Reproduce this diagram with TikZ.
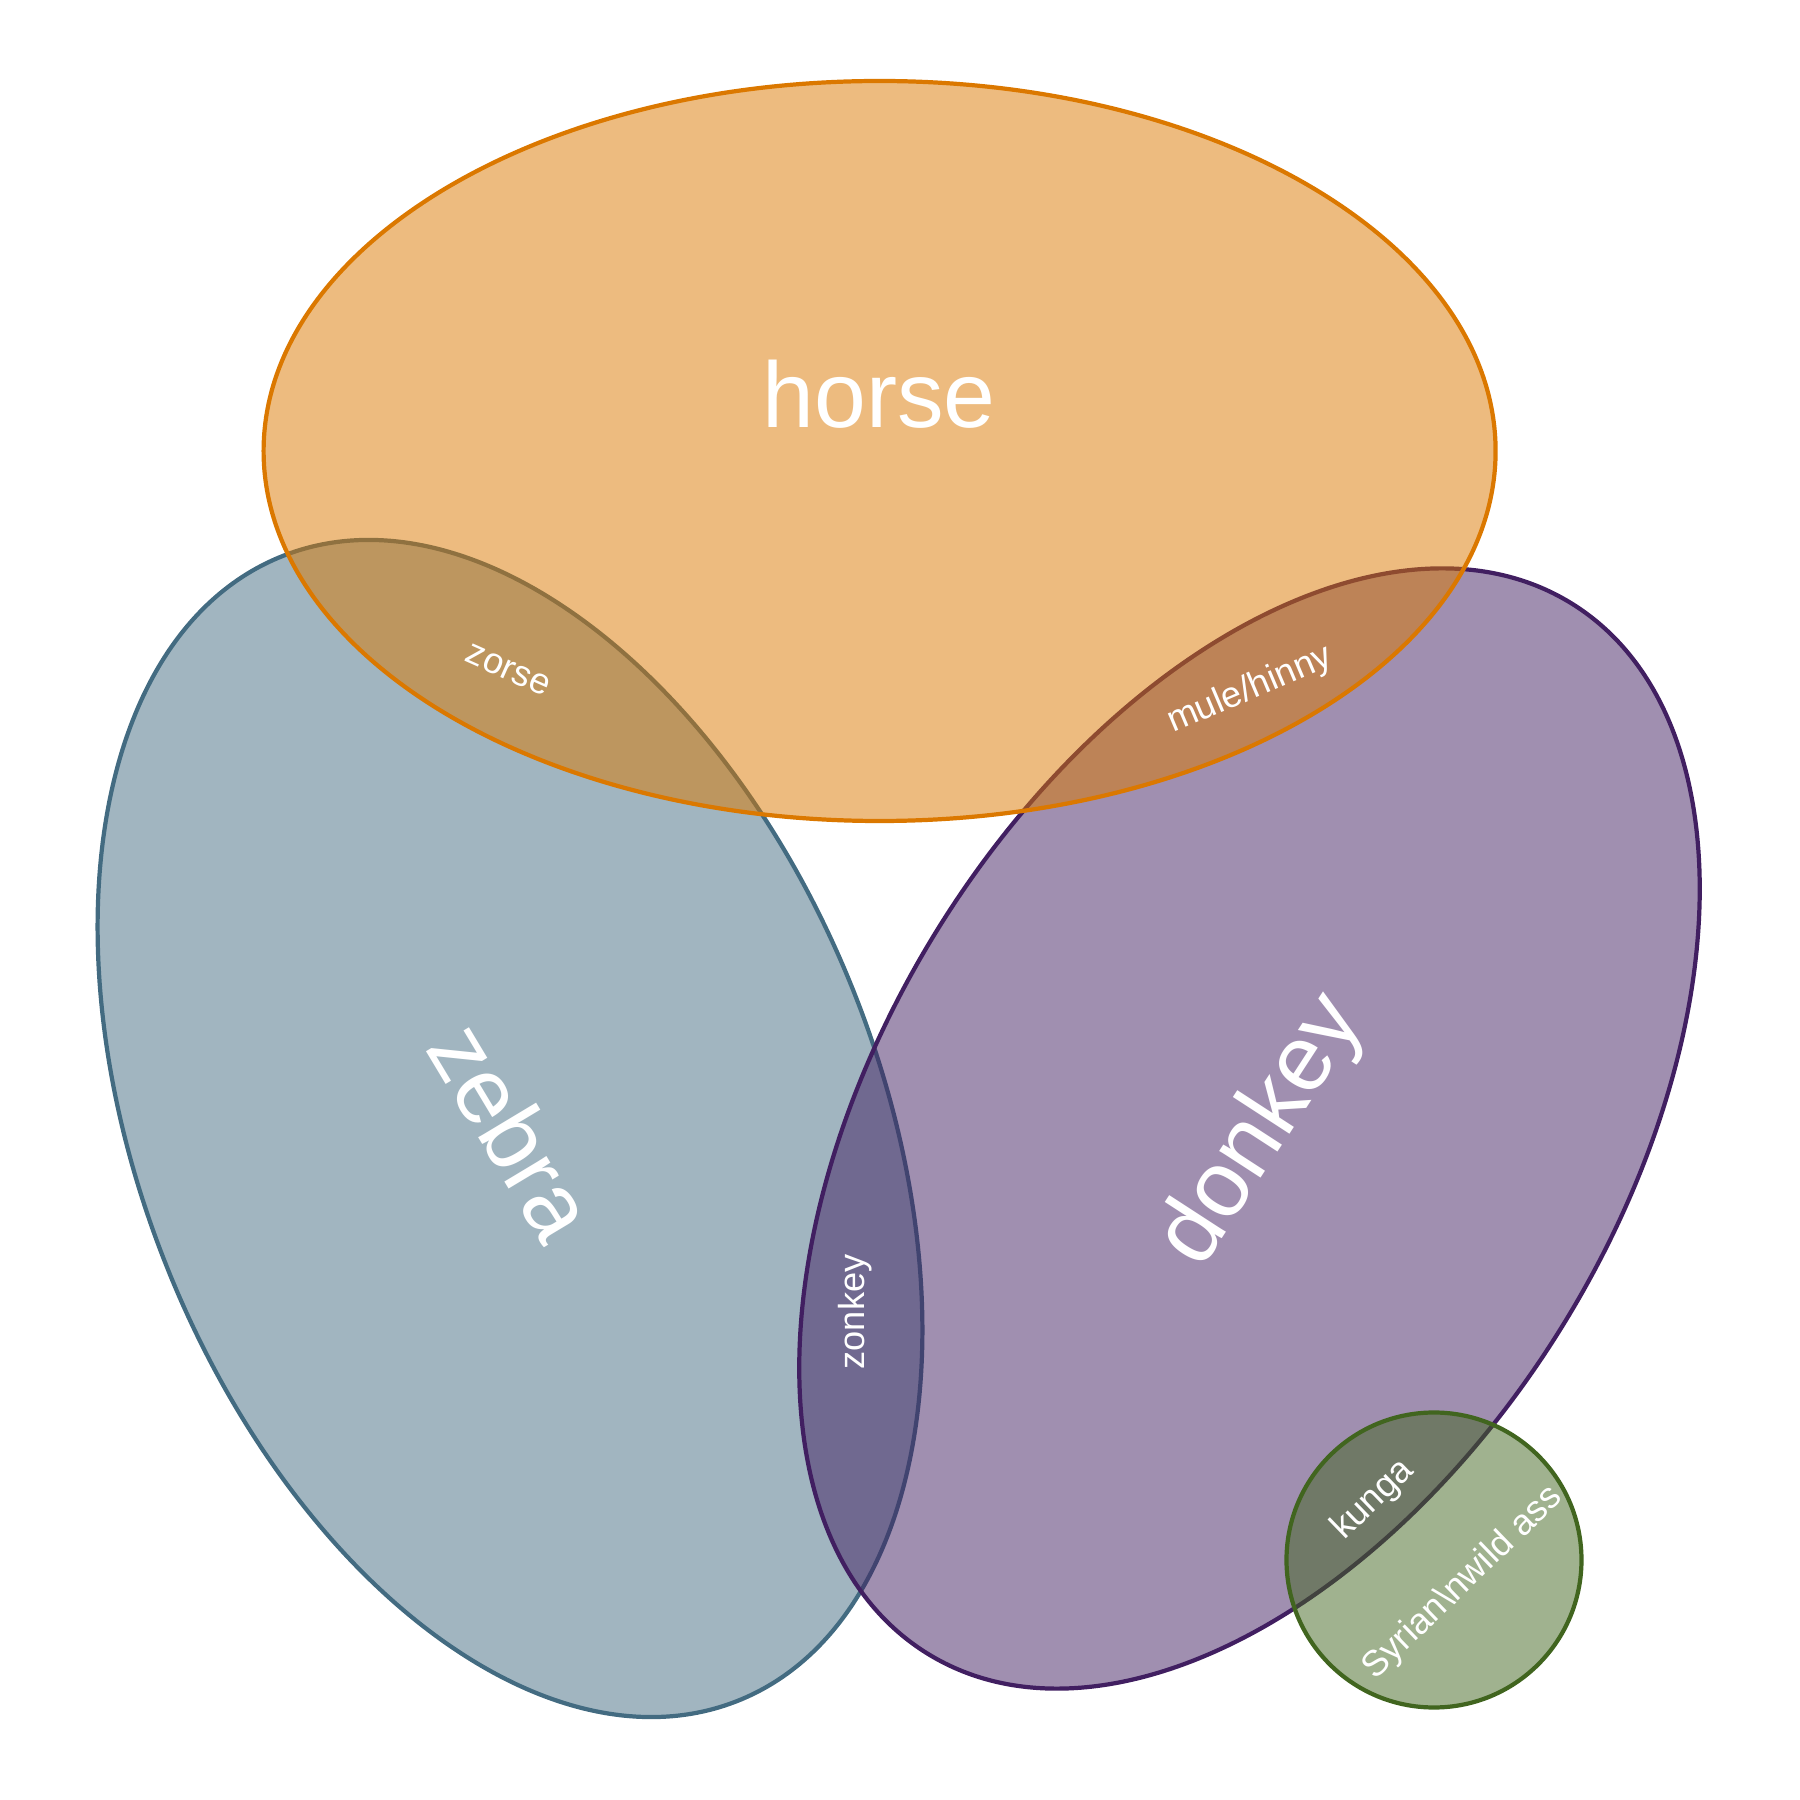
\documentclass[tikz,border=0pt]{standalone}
\usepackage{fontspec}
\setmainfont{Liberation Sans}
\definecolor{horsec}{HTML}{DB7800}
\definecolor{zebrac}{HTML}{436B81}
\definecolor{donkeyc}{HTML}{411F61}
\definecolor{assc}{HTML}{41651F}
\tikzset{
  setshape/.style={line width=1.2pt, draw=#1, fill=#1, fill opacity=0.5, draw opacity=1},
  biglabel/.style={text=white, font=\fontsize{26.5}{30}\selectfont, inner sep=0pt},
  smalllabel/.style={text=white, font=\fontsize{10.3}{12}\selectfont, inner sep=0pt}
}
\begin{document}
\begin{tikzpicture}
\useasboundingbox (0,0) rectangle (18,18);
% sets
\draw[setshape=zebrac] (5.10,6.715) ellipse[x radius=6.16, y radius=3.70, rotate=-68.3];
\draw[setshape=donkeyc] (12.495,6.715) ellipse[x radius=6.16, y radius=3.70, rotate=58.6];
\draw[setshape=horsec] (8.796,13.49) ellipse[x radius=6.16, y radius=3.70];
\draw[setshape=assc] (14.34,2.40) circle[radius=1.475];
% labels
\node[biglabel] (horse) at (8.79,14.06) {horse};
\node[biglabel, rotate=-59] (zebra) at (5.13,6.69) {zebra};
\node[biglabel, rotate=57] (donkey) at (12.63,6.69) {donkey};
\node[smalllabel, rotate=-24] (zorse) at (5.08,11.30) {zorse};
\node[smalllabel, rotate=23] (mule) at (12.50,11.10) {mule/hinny};
\node[smalllabel, rotate=90] (zonkey) at (8.55,4.88) {zonkey};
\node[smalllabel, rotate=44] (kunga) at (13.73,3.00) {kunga};
\node[smalllabel, rotate=44] (syrian) at (14.63,2.17) {Syrian\textbackslash nwild ass};
\end{tikzpicture}
\end{document}
